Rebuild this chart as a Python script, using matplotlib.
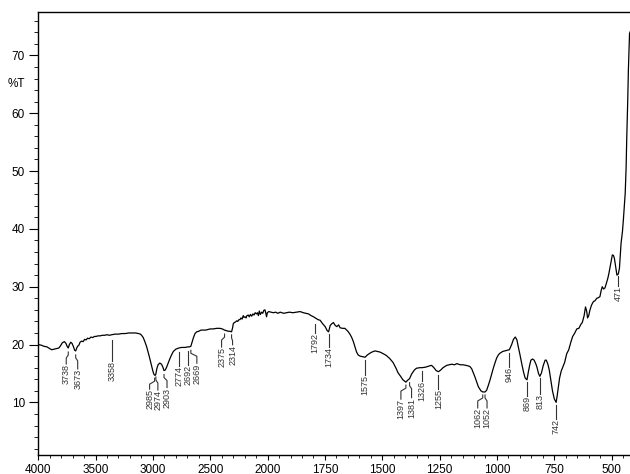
import numpy as np
import matplotlib
matplotlib.use("Agg")
import matplotlib.pyplot as plt

plt.rcParams['font.family'] = ['Liberation Sans', 'DejaVu Sans']

# IR spectrum (cm-1, %T)
wavenumber = [4000, 3975, 3950, 3924, 3900, 3882, 3860, 3839, 3820, 3805, 3790, 3772, 3758, 3748, 3738,
              3728, 3716, 3705, 3692, 3682, 3673, 3664, 3656, 3645, 3635, 3621, 3608, 3595, 3582, 3570,
              3555, 3540, 3525, 3510, 3495, 3480, 3461, 3440, 3420, 3400, 3380, 3358, 3330, 3300, 3270,
              3240, 3210, 3180, 3150, 3125, 3108, 3095, 3084, 3070, 3054, 3040, 3031, 3020, 3011, 3000,
              2992, 2985, 2978, 2974, 2966, 2955, 2940, 2925, 2913, 2903, 2892, 2880, 2865, 2851, 2835,
              2822, 2800, 2774, 2750, 2720, 2692, 2680, 2669, 2658, 2648, 2633, 2618, 2600, 2580, 2561,
              2540, 2520, 2500, 2473, 2445, 2415, 2395, 2375, 2360, 2343, 2330, 2314, 2305, 2299, 2290,
              2280, 2269, 2260, 2250, 2241, 2232, 2222, 2212, 2205, 2197, 2188, 2180, 2169, 2160, 2150,
              2139, 2128, 2118, 2108, 2096, 2088, 2080, 2072, 2063, 2052, 2042, 2033, 2023, 2015, 2009,
              2002, 1995, 1985, 1975, 1965, 1955, 1945, 1930, 1917, 1905, 1890, 1873, 1858, 1844, 1833,
              1822, 1810, 1800, 1792, 1780, 1771, 1760, 1749, 1740, 1734, 1727, 1720, 1713, 1705, 1698,
              1690, 1684, 1673, 1663, 1650, 1641, 1633, 1626, 1618, 1612, 1605, 1597, 1585, 1575, 1565,
              1554, 1545, 1532, 1520, 1510, 1495, 1482, 1468, 1453, 1440, 1431, 1420, 1410, 1397, 1390,
              1381, 1372, 1360, 1351, 1336, 1326, 1310, 1295, 1285, 1275, 1265, 1255, 1245, 1235, 1219,
              1208, 1197, 1185, 1175, 1160, 1148, 1135, 1125, 1118, 1110, 1102, 1096, 1088, 1081, 1070,
              1062, 1052, 1045, 1038, 1030, 1023, 1016, 1008, 1001, 994, 987, 975, 966, 955, 946,
              936, 928, 920, 913, 907, 900, 892, 884, 877, 869, 863, 857, 852, 845, 838,
              830, 825, 819, 813, 806, 798, 790, 785, 778, 772, 765, 758, 750, 742, 738,
              733, 727, 720, 712, 705, 696, 687, 678, 670, 662, 652, 643, 634, 628, 620,
              614, 609, 605, 600, 595, 588, 580, 572, 565, 558, 551, 546, 541, 535, 529,
              523, 517, 512, 507, 502, 497, 492, 488, 483, 477, 471, 466, 459, 453, 449,
              445, 441, 437, 434, 430, 427, 424, 422, 418, 410, 400]
transmittance = [20.0, 19.9, 19.7, 19.6, 19.3, 19.1, 19.2, 19.3, 19.4, 19.8, 20.3, 20.5, 20.2, 19.7, 19.4,
                 20.0, 20.4, 20.2, 19.6, 19.0, 18.9, 19.4, 19.7, 19.9, 20.4, 20.6, 20.5, 20.9, 20.8, 21.1,
                 21.0, 21.3, 21.2, 21.4, 21.4, 21.5, 21.5, 21.6, 21.6, 21.7, 21.6, 21.7, 21.8, 21.8, 21.9,
                 21.9, 22.0, 22.0, 22.0, 21.9, 21.8, 21.5, 21.2, 20.5, 19.6, 18.6, 17.9, 17.0, 16.2, 15.4,
                 14.9, 14.7, 14.7, 14.9, 15.8, 16.5, 16.8, 16.6, 16.1, 15.5, 15.6, 16.1, 16.9, 17.6, 18.3,
                 18.8, 19.2, 19.4, 19.5, 19.5, 19.6, 19.6, 19.7, 20.4, 21.1, 21.9, 22.2, 22.3, 22.5, 22.5,
                 22.5, 22.6, 22.7, 22.7, 22.8, 22.8, 22.7, 22.5, 22.4, 22.3, 22.3, 22.2, 22.9, 23.6, 23.8,
                 23.9, 24.1, 24.0, 24.3, 24.3, 24.6, 24.4, 25.0, 24.7, 24.8, 24.6, 25.0, 25.1, 24.8, 25.2,
                 24.9, 25.3, 25.1, 25.5, 25.3, 25.5, 25.0, 25.8, 25.2, 25.6, 25.4, 25.9, 26.0, 25.4, 24.8,
                 25.5, 25.7, 25.6, 25.5, 25.6, 25.4, 25.6, 25.4, 25.5, 25.6, 25.5, 25.6, 25.7, 25.5, 25.4,
                 25.3, 25.0, 24.8, 24.6, 24.3, 24.2, 23.6, 23.1, 22.4, 22.2, 23.3, 23.6, 23.8, 23.3, 23.1,
                 23.4, 22.9, 22.8, 22.8, 22.3, 21.8, 21.2, 20.5, 19.5, 18.7, 18.2, 18.0, 17.9, 17.8, 18.2,
                 18.5, 18.7, 18.9, 18.8, 18.7, 18.4, 18.1, 17.6, 16.9, 15.9, 15.1, 14.5, 13.9, 13.5, 13.8,
                 14.1, 14.9, 15.6, 15.9, 16.0, 16.0, 16.1, 16.3, 16.4, 16.0, 15.5, 15.3, 15.6, 16.0, 16.4,
                 16.5, 16.6, 16.5, 16.7, 16.5, 16.5, 16.4, 16.3, 16.2, 15.8, 15.0, 14.4, 13.5, 12.7, 12.0,
                 11.8, 11.8, 12.1, 12.9, 13.9, 14.9, 15.9, 16.9, 17.7, 18.2, 18.5, 18.8, 18.9, 19.0, 19.1,
                 20.0, 20.9, 21.3, 20.8, 19.6, 18.3, 16.7, 15.2, 14.2, 13.9, 15.3, 16.5, 17.3, 17.5, 17.3,
                 16.6, 16.0, 15.0, 14.5, 15.1, 16.4, 17.3, 17.3, 16.6, 15.6, 13.8, 12.0, 10.6, 10.0, 11.0,
                 12.5, 14.2, 15.4, 16.2, 16.9, 18.4, 19.1, 20.4, 21.4, 21.9, 22.7, 22.8, 23.5, 23.8, 25.0,
                 26.5, 25.8, 24.6, 25.0, 25.9, 26.8, 27.4, 27.6, 28.0, 28.1, 28.3, 29.3, 30.0, 29.6, 29.8,
                 30.6, 31.4, 32.3, 33.4, 34.5, 35.5, 35.4, 34.9, 33.6, 32.0, 32.2, 33.2, 37.5, 39.5, 41.5,
                 43.8, 46.1, 50.5, 56.0, 62.0, 67.5, 71.5, 73.8, 74.2, 74.6, 75.0]

peak_labels = [3738, 3673, 3358, 2985, 2974, 2903, 2774, 2692, 2669, 2375, 2314, 1792, 1734,
               1575, 1397, 1381, 1326, 1255, 1062, 1052, 946, 869, 813, 742, 471]

major_ticks = [4000, 3500, 3000, 2500, 2000, 1750, 1500, 1250, 1000, 750, 500]

# label leader layout in pixels: (text shift, gap below curve, text top below curve)
leader = {3738: (-2, 4, 16), 3673: (2, 4, 18), 3358: (0, 5, 26), 2985: (-5, 3, 14),
          2974: (2, 3, 16), 2903: (3, 4, 17), 2774: (0, 4, 18), 2692: (0, 4, 18),
          2669: (6, 4, 17), 2375: (-3, 4, 17), 2314: (1, 3, 13), 1792: (0, 6, 15),
          1734: (0, 2, 15), 1575: (0, 3, 18), 1397: (-5, 3, 17), 1381: (2, 4, 19),
          1326: (0, 3, 13), 1255: (0, 3, 17), 1062: (-5, 3, 16), 1052: (2, 3, 16),
          946: (0, 3, 17), 869: (0, 2, 16), 813: (0, 2, 18), 742: (0, 3, 17), 471: (0, 2, 12)}


# the axis is compressed by 2 above 2000 cm-1
def forward(w):
    w = np.asarray(w, dtype=float)
    return np.where(w >= 2000, 2000 + (w - 2000) / 2, w)


def inverse(u):
    u = np.asarray(u, dtype=float)
    return np.where(u >= 2000, 2000 + (u - 2000) * 2, u)


fig = plt.figure(figsize=(6.3, 4.74), dpi=100)
ax = fig.add_axes([38.2 / 630, 19 / 474, 591.8 / 630, 443 / 474])
ax.set_xscale('function', functions=(forward, inverse))
ax.plot(wavenumber, transmittance, color='black', lw=0.9)
ax.set_xlim(4000, 420)
ax.set_ylim(0.9, 77.5)

ax.set_xticks(major_ticks)
ax.set_xticklabels([str(t) for t in major_ticks])
ax.set_xticks(list(range(4000, 2000, -100)) + list(range(2000, 400, -50)), minor=True)
ax.set_yticks(range(10, 80, 10))
ax.set_yticks(range(2, 78, 2), minor=True)
ax.tick_params(axis='both', labelsize=8.5, width=0.8, direction='out')
ax.tick_params(axis='y', which='major', length=6.5, pad=3)
ax.tick_params(axis='y', which='minor', length=3)
ax.tick_params(axis='x', which='major', length=3.6, pad=3)
ax.tick_params(axis='x', which='minor', length=2.2)
ax.spines['right'].set_visible(False)
for s in ['top', 'left', 'bottom']:
    ax.spines[s].set_linewidth(1.0)

ax.text(-0.037, 65, '%T', transform=ax.get_yaxis_transform(), ha='center', va='center', fontsize=8.5)

# peak labels with leader lines
wn_sorted = wavenumber[::-1]
t_sorted = transmittance[::-1]
to_data = ax.transData.inverted()
for peak in peak_labels:
    dx, gap, drop = leader[peak]
    y = np.interp(peak, wn_sorted, t_sorted)
    px, py = ax.transData.transform((peak, y))
    pts = [(px, py - gap), (px, py - gap - 3), (px + dx, py - gap - 6), (px + dx, py - drop)]
    pts = to_data.transform(pts)
    ax.plot(pts[:, 0], pts[:, 1], color='#333333', lw=0.8)
    ax.text(pts[-1, 0], pts[-1, 1], str(peak), rotation=90, ha='center', va='top',
            fontsize=6.5, color='#333333')

fig.savefig('out.png', dpi=100)
